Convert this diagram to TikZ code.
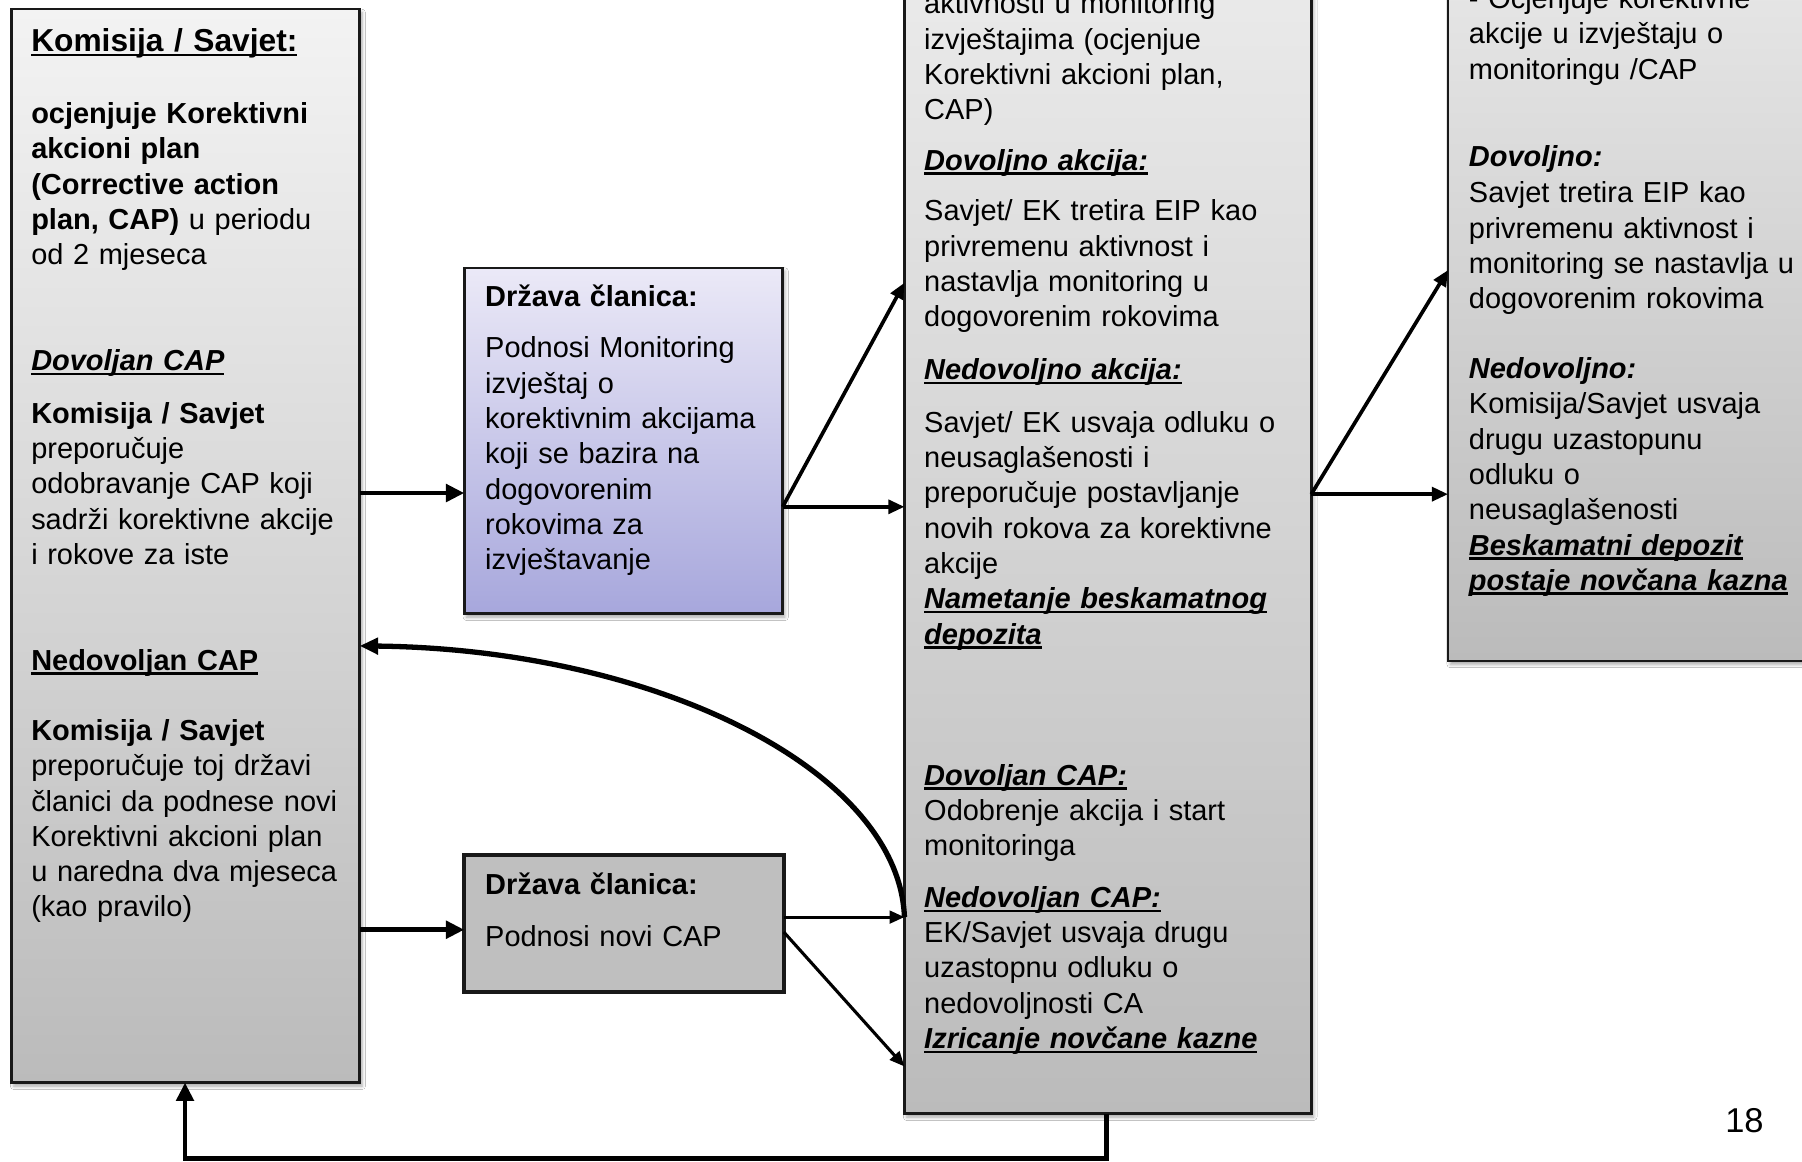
\documentclass[tikz,border=0pt]{standalone}
\usepackage{fontspec}
\setmainfont{Liberation Sans}
\usetikzlibrary{arrows.meta,shadows.blur,calc}
\definecolor{gT}{HTML}{F3F3F3}
\definecolor{gB}{HTML}{BBBBBB}
\definecolor{lT}{HTML}{EBE9F7}
\definecolor{lB}{HTML}{A7A7DC}
\definecolor{mG}{HTML}{BFBFBF}
\newcommand\ulx[1]{\leavevmode\setbox0=\hbox{#1}\rlap{\rule[-4pt]{\wd0}{2.2pt}}\box0}
\tikzset{
  box/.style={draw=black!90, line width=2.2pt, rectangle, inner sep=0pt, outer sep=0pt, anchor=north west,
    blur shadow={shadow xshift=2pt, shadow yshift=-3pt, shadow blur radius=3pt, shadow opacity=35}},
  txt/.style={anchor=base west, inner sep=0pt, text width=480pt, align=left, font=\fontsize{25.2}{30.7}\selectfont},
  thickarrow/.style={line width=4.2pt, -{Triangle[length=16pt,width=15pt]}},
  medarrow/.style={line width=3.2pt, -{Triangle[length=14pt,width=12pt]}},
  thinarrow/.style={line width=2.7pt, -{Triangle[length=13pt,width=11pt]}},
}
\begin{document}
\begin{tikzpicture}[x=1pt,y=-1pt]
\fill[white] (0,0) rectangle (1568,1011);
\path[use as bounding box, clip] (0,0) rectangle (1568,1011);

% boxes
\node[box, top color=gT, bottom color=gB, minimum width=303pt, minimum height=934pt] (L) at (10,8) {};
\node[box, top color=lT, bottom color=lB, minimum width=277pt, minimum height=301pt] (M1) at (404,233) {};
\node[draw=black!90, line width=3.2pt, rectangle, inner sep=0pt, outer sep=0pt, anchor=north west, fill=mG, minimum width=278pt, minimum height=119pt] (M2) at (404,744) {};
\node[box, top color=gT, bottom color=gB, minimum width=354pt, minimum height=1169pt] (C) at (787,-200) {};
\node[box, top color=gT, bottom color=gB, minimum width=360pt, minimum height=775pt] (R) at (1260,-200) {};

% texts of the left box
\node[txt, font=\fontsize{27.6}{33}\selectfont] (Lt) at (27,45) {\ulx{\bfseries Komisija / Savjet:}};
\node[txt] (Lb) at (27,107.5) {{\bfseries ocjenjuje Korektivni\\ akcioni plan\\ (Corrective action\\ plan, CAP)} u periodu\\ od 2 mjeseca\\[61.4pt]
\ulx{\bfseries\itshape Dovoljan CAP}\\[15.3pt]
{\bfseries Komisija / Savjet}\\ preporučuje\\ odobravanje CAP koji\\ sadrži korektivne akcije\\ i rokove za iste\\[61.4pt]
\ulx{\bfseries Nedovoljan CAP}\\[30.3pt]
{\bfseries Komisija / Savjet}\\ preporučuje toj državi\\ članici da podnese novi\\ Korektivni akcioni plan\\ u naredna dva mjeseca\\ (kao pravilo)};

% middle boxes
\node[txt] (M1t) at (422,266.5) {{\bfseries Država članica:}\\[14.3pt] Podnosi Monitoring\\ izvještaj o\\ korektivnim akcijama\\ koji se bazira na\\ dogovorenim\\ rokovima za\\ izvještavanje};
\node[txt] (M2t) at (422,778.5) {{\bfseries Država članica:}\\[14.3pt] Podnosi novi CAP};

% centre box
\node[txt] (Ct) at (804,12) {aktivnosti u monitoring\\ izvještajima (ocjenjue\\ Korektivni akcioni plan,\\ CAP)\\[13.3pt]
\ulx{\bfseries\itshape Dovoljno akcija:}\\[13.3pt]
Savjet/ EK tretira EIP kao\\ privremenu aktivnost i\\ nastavlja monitoring u\\ dogovorenim rokovima\\[15.3pt]
\ulx{\bfseries\itshape Nedovoljno akcija:}\\[15.3pt]
Savjet/ EK usvaja odluku o\\ neusaglašenosti i\\ preporučuje postavljanje\\ novih rokova za korektivne\\ akcije\\
\ulx{\bfseries\itshape Nametanje beskamatnog}\\ \ulx{\bfseries\itshape depozita}\\[92.1pt]
\ulx{\bfseries\itshape Dovoljan CAP:}\\ Odobrenje akcija i start\\ monitoringa\\[14.3pt]
\ulx{\bfseries\itshape Nedovoljan CAP:}\\ EK/Savjet usvaja drugu\\ uzastopnu odluku o\\ nedovoljnosti CA\\
\ulx{\bfseries\itshape Izricanje novčane kazne}};

% right box
\node[txt] (Rt) at (1278,7.5) {- Ocjenjuje korektivne\\ akcije u izvještaju o\\ monitoringu /CAP\\[44.9pt]
{\bfseries\itshape Dovoljno:}\\[1.3pt]
Savjet tretira EIP kao\\ privremenu aktivnost i\\ monitoring se nastavlja u\\ dogovorenim rokovima\\[30.2pt]
{\bfseries\itshape Nedovoljno:}\\ Komisija/Savjet usvaja\\ drugu uzastopunu\\ odluku o\\ neusaglašenosti\\
\ulx{\bfseries\itshape Beskamatni depozit}\\ \ulx{\bfseries\itshape postaje novčana kazna}};

% page number
\node[anchor=base west, inner sep=0pt, font=\fontsize{30}{36}\selectfont] (pg) at (1501,985) {18};

% helper coordinates
\coordinate (yA) at (0,429);
\coordinate (yB) at (0,809);
\coordinate (yC) at (0,441);
\coordinate (yD) at (0,246);
\coordinate (yE) at (0,798);
\coordinate (yF) at (0,811);
\coordinate (yG) at (0,928);
\coordinate (yH) at (0,430);
\coordinate (yI) at (0,235);
\coordinate (yK) at (0,562);
\coordinate (yL) at (0,1008);
\coordinate (xB) at (963,0);
\coordinate (xL) at (161,0);
\coordinate (cc1) at (782,670);
\coordinate (cc2) at (570,565);

% connectors
\draw[thickarrow] (L.east |- yA) -- (M1.west |- yA);
\draw[thickarrow] (L.east |- yB) -- (M2.west |- yB);
\draw[medarrow] (M1.east |- yC) -- (C.west |- yD);
\draw[medarrow] (M1.east |- yC) -- (C.west |- yC);
\draw[thinarrow] (M2.east |- yE) -- (C.west |- yE);
\draw[thinarrow] (M2.east |- yF) -- (C.west |- yG);
\draw[medarrow] (C.east |- yH) -- (R.west |- yI);
\draw[medarrow] (C.east |- yH) -- (R.west |- yH);
\draw[line width=4.6pt, -{Triangle[length=16pt,width=14pt]}] (C.west |- yE) .. controls (cc1) and (cc2) .. (L.east |- yK);
\draw[thickarrow] (C.south -| xB) |- (yL -| xL) -- (L.south -| xL);
\end{tikzpicture}
\end{document}
